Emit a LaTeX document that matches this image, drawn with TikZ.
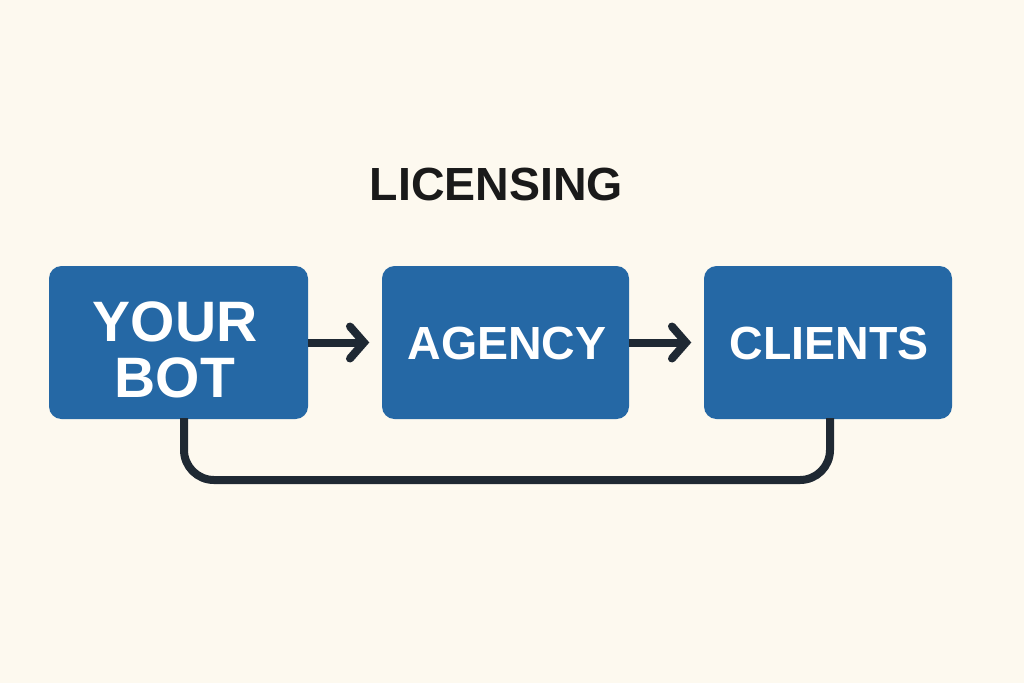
\documentclass[tikz,border=0pt]{standalone}
\usepackage{fontspec}
\setmainfont{Liberation Sans}
\usetikzlibrary{arrows.meta}
\definecolor{paper}{HTML}{FDF9EF}
\definecolor{boxblue}{HTML}{2568A5}
\definecolor{inkdark}{HTML}{1F2933}
\definecolor{titleink}{HTML}{1A1A1A}
\tikzset{
    bluebox/.style = {fill=boxblue, rounded corners=12.5pt, minimum height=153pt, inner sep=0pt},
    boxtext/.style = {text=white, align=center, font=\bfseries\fontsize{46.5}{50}\selectfont},
    bigtext/.style = {text=white, align=center, font=\bfseries\fontsize{57}{56}\selectfont},
    arrowline/.style = {draw=inkdark, line width=8pt, shorten >=12.5pt, -{Straight Barb[length=14pt,width=32pt,line width=8pt,line cap=round]}},
    backline/.style = {draw=inkdark, line width=8pt, rounded corners=30pt}
}
\begin{document}
\begin{tikzpicture}[x=1pt, y=-1pt]
    \useasboundingbox[fill=paper] (0,0) rectangle (1024,683);
    \node[bluebox, minimum width=259pt, label={[bigtext, xshift=-3.5pt, yshift=-7pt]center:YOUR\\BOT}] (bot) at (178.5,342.5) {};
    \node[bluebox, minimum width=247pt, label={[boxtext, xshift=1.5pt, yshift=-0.5pt]center:AGENCY}] (agency) at (505.5,342.5) {};
    \node[bluebox, minimum width=248pt, label={[boxtext, xshift=1pt, yshift=-0.5pt]center:CLIENTS}] (clients) at (828,342.5) {};
    \node[font=\bfseries\fontsize{46.5}{54}\selectfont, text=titleink] (title) at (496.5,184) {LICENSING};
    \draw[arrowline] (bot.east) -- (agency.west);
    \draw[arrowline] (agency.east) -- (clients.west);
    \coordinate (botfoot) at (184,418);
    \coordinate (clientsfoot) at (830,418);
    \draw[backline] (botfoot) -- (184,480) -- (830,480) -- (clientsfoot);
\end{tikzpicture}
\end{document}
